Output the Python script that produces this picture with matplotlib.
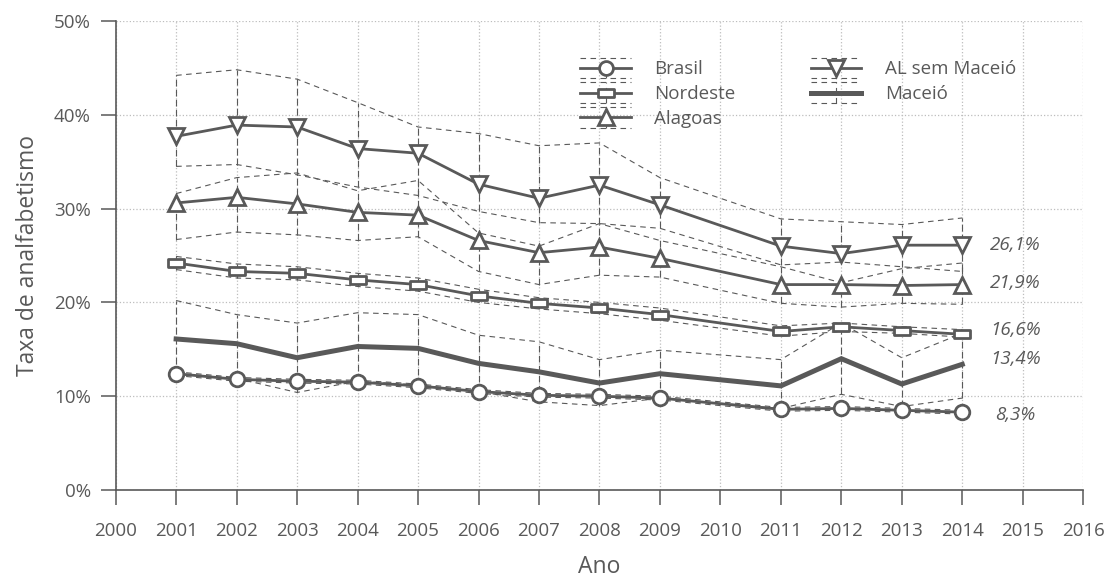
"""
plot.py

Taxa de analfabetismo: Brasil, Nordeste, Alagoas, AL sem Maceió e Maceió (2001-2014),
com intervalos de confiança tracejados.
"""

import matplotlib

matplotlib.use("Agg")

import matplotlib.pyplot as plt
from matplotlib.legend_handler import HandlerBase
from matplotlib.lines import Line2D
from matplotlib.path import Path
from matplotlib.ticker import FuncFormatter, MultipleLocator

plt.rcParams["font.family"] = ["Open Sans", "DejaVu Sans"]

GRAY = "#595959"
GRID = "#bdbdbd"

# anos com dados (2010 sem PNAD)
years = [2001, 2002, 2003, 2004, 2005, 2006, 2007, 2008, 2009, 2011, 2012, 2013, 2014]

brasil = [12.4, 11.8, 11.6, 11.5, 11.1, 10.5, 10.1, 10.0, 9.8, 8.6, 8.7, 8.5, 8.3]
brasil_hi = [12.6, 12.0, 11.8, 11.7, 11.3, 10.7, 10.3, 10.2, 10.0, 8.8, 8.9, 8.7, 8.5]
brasil_lo = [12.2, 11.6, 11.4, 11.3, 10.9, 10.3, 9.9, 9.8, 9.6, 8.4, 8.5, 8.3, 8.1]

nordeste = [24.2, 23.3, 23.1, 22.4, 21.9, 20.7, 19.9, 19.4, 18.7, 16.9, 17.4, 17.0, 16.6]
nordeste_hi = [24.9, 24.1, 23.8, 23.1, 22.6, 21.4, 20.5, 20.0, 19.4, 17.5, 17.8, 17.4, 17.1]
nordeste_lo = [23.5, 22.6, 22.4, 21.7, 21.2, 20.0, 19.3, 18.8, 18.1, 16.4, 16.9, 16.7, 16.3]

alagoas = [30.6, 31.2, 30.5, 29.6, 29.3, 26.6, 25.3, 25.9, 24.7, 21.9, 21.9, 21.8, 21.9]
alagoas_hi = [31.6, 33.3, 33.8, 31.9, 33.0, 27.4, 26.0, 28.4, 26.6, 23.8, 22.1, 23.6, 24.2]
alagoas_lo = [26.7, 27.5, 27.2, 26.6, 27.0, 23.3, 21.9, 22.9, 22.7, 19.9, 19.5, 19.9, 19.8]

al_sem_maceio = [37.7, 38.9, 38.7, 36.4, 35.9, 32.6, 31.1, 32.5, 30.4, 26.0, 25.2, 26.1, 26.1]
al_sem_maceio_hi = [44.2, 44.8, 43.8, 41.3, 38.7, 38.0, 36.7, 37.0, 33.3, 28.9, 28.6, 28.3, 29.0]
al_sem_maceio_lo = [34.5, 34.7, 33.6, 32.3, 31.4, 29.7, 28.5, 28.4, 27.9, 24.0, 24.3, 23.8, 23.3]

maceio = [16.1, 15.6, 14.1, 15.3, 15.1, 13.5, 12.6, 11.4, 12.4, 11.1, 14.0, 11.3, 13.4]
maceio_hi = [20.2, 18.7, 17.8, 18.9, 18.7, 16.5, 15.8, 13.9, 14.9, 13.9, 17.8, 14.1, 16.7]
maceio_lo = [12.4, 11.9, 10.4, 11.6, 11.2, 10.5, 9.4, 9.0, 9.8, 8.7, 10.2, 8.9, 9.8]

# marcador retangular do Nordeste
RECT = Path([(-1, -0.45), (1, -0.45), (1, 0.45), (-1, 0.45), (-1, -0.45)],
            [Path.MOVETO, Path.LINETO, Path.LINETO, Path.LINETO, Path.CLOSEPOLY])

series = [
    # nome, valores, sup, inf, marcador, tamanho, espessura, deslocamento do rótulo (pt)
    ("Brasil", brasil, brasil_hi, brasil_lo, "o", 10.5, 2.0, -2.2),
    ("Nordeste", nordeste, nordeste_hi, nordeste_lo, RECT, 12, 2.0, 2.9),
    ("Alagoas", alagoas, alagoas_hi, alagoas_lo, "^", 12, 2.0, 1.4),
    ("AL sem Maceió", al_sem_maceio, al_sem_maceio_hi, al_sem_maceio_lo, "v", 12, 2.0, 0.0),
    ("Maceió", maceio, maceio_hi, maceio_lo, None, 0, 3.6, 3.6),
]

DASH = (0, (5, 4))
FS = 13.5


class CIHandler(HandlerBase):
    """Linha principal com tracejados acima e abaixo, como no gráfico."""

    def create_artists(self, legend, orig_handle, xdescent, ydescent,
                       width, height, fontsize, trans):
        cy = height / 2 - ydescent
        x0, x1 = -xdescent, -xdescent + width
        xm = (x0 + x1) / 2
        off = 0.55 * fontsize
        upper = Line2D([x0, x1], [cy + off, cy + off], color=GRAY, lw=0.8, ls=DASH)
        lower = Line2D([x0, x1], [cy - off, cy - off], color=GRAY, lw=0.8, ls=DASH)
        vline = Line2D([xm, xm], [cy - off, cy + off], color=GRAY, lw=0.8, ls=DASH)
        main = Line2D([x0, xm, x1], [cy, cy, cy], color=GRAY,
                      lw=orig_handle.get_linewidth(),
                      marker=orig_handle.get_marker(), markevery=[1],
                      ms=orig_handle.get_markersize() * 0.95, mfc="white",
                      mec=GRAY, mew=orig_handle.get_markeredgewidth())
        artists = [upper, lower, vline, main]
        for a in artists:
            a.set_transform(trans)
        return artists


def main():
    fig = plt.figure(figsize=(11.07, 5.81), dpi=100)
    ax = fig.add_axes([0.1045, 0.1566, 0.8740, 0.8073])

    handles = []
    for name, vals, hi, lo, marker, ms, lw, dy in series:
        ax.plot(years, hi, color=GRAY, lw=0.8, ls=DASH, zorder=2)
        ax.plot(years, lo, color=GRAY, lw=0.8, ls=DASH, zorder=2)
        ax.vlines(years, lo, hi, color=GRAY, lw=0.8, linestyles=[(0, (6, 3))], zorder=2)
        line, = ax.plot(years, vals, color=GRAY, lw=lw, marker=marker, ms=ms,
                        mfc="white", mec=GRAY, mew=2.0, zorder=4,
                        solid_joinstyle="miter")
        line.set_label(name)
        handles.append(line)

        label = f"{vals[-1]:.1f}%".replace(".", ",")
        ax.annotate(label, xy=(2014.88, vals[-1]), xytext=(0, dy),
                    textcoords="offset points", ha="center", va="center",
                    fontsize=FS, style="italic", color=GRAY)

    ax.set_xlim(2000, 2016)
    ax.set_ylim(0, 50)
    ax.xaxis.set_major_locator(MultipleLocator(1))
    ax.yaxis.set_major_locator(MultipleLocator(10))
    ax.yaxis.set_major_formatter(FuncFormatter(lambda v, _: f"{v:.0f}%"))

    ax.grid(True, color=GRID, ls=":", lw=0.9, zorder=0)
    ax.set_axisbelow(True)

    for side in ["top", "right"]:
        ax.spines[side].set_visible(False)
    for side in ["left", "bottom"]:
        ax.spines[side].set_color(GRAY)
        ax.spines[side].set_linewidth(1.2)

    ax.tick_params(axis="both", colors=GRAY, labelsize=FS, length=11, width=1.1)
    ax.tick_params(axis="x", pad=12)
    ax.tick_params(axis="y", pad=7)

    ax.set_xlabel("Ano", fontsize=16.5, color=GRAY, labelpad=11)
    ax.set_ylabel("Taxa de analfabetismo", fontsize=16.5, color=GRAY, labelpad=10)

    leg = ax.legend(handles=handles, handler_map={Line2D: CIHandler()},
                    loc="upper left", bbox_to_anchor=(0.509, 0.925),
                    bbox_transform=fig.transFigure, ncol=2, frameon=False,
                    fontsize=FS, handlelength=2.7, handletextpad=1.25,
                    labelspacing=0.36, columnspacing=4.0)
    for t in leg.get_texts():
        t.set_color(GRAY)

    fig.savefig("out.png", dpi=100)
    plt.close(fig)


if __name__ == "__main__":
    main()
